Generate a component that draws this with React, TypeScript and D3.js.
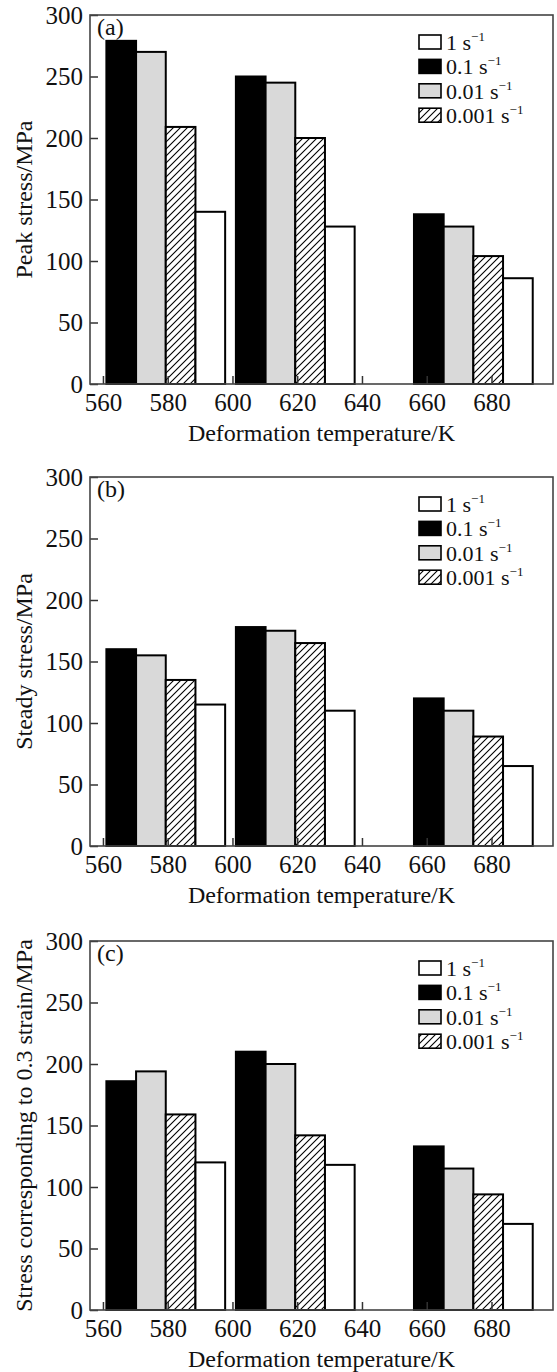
import React, { useRef, useEffect } from "react";
import * as d3 from "d3";

// group temperatures (K) as placed on the x axis
const temperatures = [579.4, 619.4, 674.4];
// bar order inside each group
const barRates = ["0.1", "0.01", "0.001", "1"];
const legendRates = ["1", "0.1", "0.01", "0.001"];

// values per group, in barRates order (MPa)
const peakStress = [
  [279, 270, 209, 140],
  [250, 245, 200, 128],
  [138, 128, 104, 86],
];
const steadyStress = [
  [160, 155, 135, 115],
  [178, 175, 165, 110],
  [120, 110, 89, 65],
];
const strainStress = [
  [186, 194, 159, 120],
  [210, 200, 142, 118],
  [133, 115, 94, 70],
];

const panelLabels = ["(a)", "(b)", "(c)"];
const yTitles = [
  "Peak stress/MPa",
  "Steady stress/MPa",
  "Stress corresponding to 0.3 strain/MPa",
];
const yTicks = [0, 50, 100, 150, 200, 250, 300];
const xTicks = [560, 580, 600, 620, 640, 660, 680];
const xTitle = "Deformation temperature/K";

export default function App() {
  const svgRef = useRef(null);

  useEffect(() => {
    const width = 557;
    const height = 1372;
    const left = 90;
    const right = 553;
    const plotH = 369;
    const tops = [15, 477, 941];
    const barW = 9.17; // K
    const font = "'Liberation Serif', 'Times New Roman', serif";

    const fills = {
      "0.1": "#000",
      "0.01": "#d9d9d9",
      "0.001": "url(#hatch)",
      "1": "#fff",
    };

    const svg = d3.select(svgRef.current);
    svg.selectAll("*").remove();
    svg.attr("width", width).attr("height", height);

    svg.append("rect").attr("width", width).attr("height", height).attr("fill", "#fff");

    const defs = svg.append("defs");
    const pat = defs
      .append("pattern")
      .attr("id", "hatch")
      .attr("patternUnits", "userSpaceOnUse")
      .attr("width", 7)
      .attr("height", 7);
    pat.append("rect").attr("width", 7).attr("height", 7).attr("fill", "#fff");
    pat
      .append("path")
      .attr("d", "M-1,1 l2,-2 M0,7 l7,-7 M6,8 l2,-2")
      .attr("stroke", "#000")
      .attr("stroke-width", 1.1);

    const x = d3.scaleLinear().domain([556, 699]).range([left, right]);
    const bw = x(barW) - x(0);

    const datasets = [peakStress, steadyStress, strainStress];

    datasets.forEach((values, p) => {
      const top = tops[p];
      const bottom = top + plotH;
      const y = d3.scaleLinear().domain([0, 300]).range([bottom, top]);
      const g = svg.append("g");

      // bars
      values.forEach((group, gi) => {
        group.forEach((v, bi) => {
          const x0 = x(temperatures[gi] - 2 * barW) + bi * bw;
          g.append("rect")
            .attr("x", x0)
            .attr("y", y(v))
            .attr("width", bw)
            .attr("height", bottom - y(v))
            .attr("fill", fills[barRates[bi]])
            .attr("stroke", "#000")
            .attr("stroke-width", 2);
        });
      });

      // axes
      const ax = g
        .append("g")
        .attr("transform", `translate(${left},0)`)
        .call(
          d3.axisLeft(y).tickValues(yTicks).tickSizeInner(-8).tickSizeOuter(0).tickPadding(7)
        );
      const bx = g
        .append("g")
        .attr("transform", `translate(0,${bottom})`)
        .call(
          d3.axisBottom(x).tickValues(xTicks).tickSizeInner(-8).tickSizeOuter(0).tickPadding(9)
        );
      [ax, bx].forEach((a) => {
        a.select(".domain").remove();
        a.selectAll("line").attr("stroke", "#333").attr("stroke-width", 1.5);
        a.selectAll("text")
          .attr("fill", "#111")
          .style("font-family", font)
          .style("font-size", "25px");
      });

      // frame
      g.append("rect")
        .attr("x", left)
        .attr("y", top)
        .attr("width", right - left)
        .attr("height", plotH)
        .attr("fill", "none")
        .attr("stroke", "#444")
        .attr("stroke-width", 1.6);

      // panel label
      g.append("text")
        .attr("x", left + 7)
        .attr("y", top + 20)
        .style("font-family", font)
        .style("font-size", "24px")
        .attr("fill", "#111")
        .text(panelLabels[p]);

      // legend
      legendRates.forEach((r, i) => {
        const cy = top + 27 + i * 24.4;
        g.append("rect")
          .attr("x", right - 134)
          .attr("y", cy - 7)
          .attr("width", 22)
          .attr("height", 14)
          .attr("fill", fills[r])
          .attr("stroke", "#000")
          .attr("stroke-width", 1.6);
        const t = g
          .append("text")
          .attr("x", right - 107)
          .attr("y", cy)
          .attr("dy", "0.36em")
          .style("font-family", font)
          .style("font-size", "22px")
          .attr("fill", "#111");
        t.append("tspan").text(`${r} s`);
        t.append("tspan").attr("dy", -9).style("font-size", "13px").text("\u22121");
      });

      // axis titles
      g.append("text")
        .attr("x", (left + right) / 2)
        .attr("y", bottom + 57)
        .attr("text-anchor", "middle")
        .style("font-family", font)
        .style("font-size", "24px")
        .attr("fill", "#111")
        .text(xTitle);

      g.append("text")
        .attr("transform", `translate(32,${(top + bottom) / 2}) rotate(-90)`)
        .attr("text-anchor", "middle")
        .style("font-family", font)
        .style("font-size", "24px")
        .attr("fill", "#111")
        .text(yTitles[p]);
    });
  }, []);

  return (
    <svg
      ref={svgRef}
      style={{ position: "absolute", left: 0, top: 0, display: "block" }}
    ></svg>
  );
}
